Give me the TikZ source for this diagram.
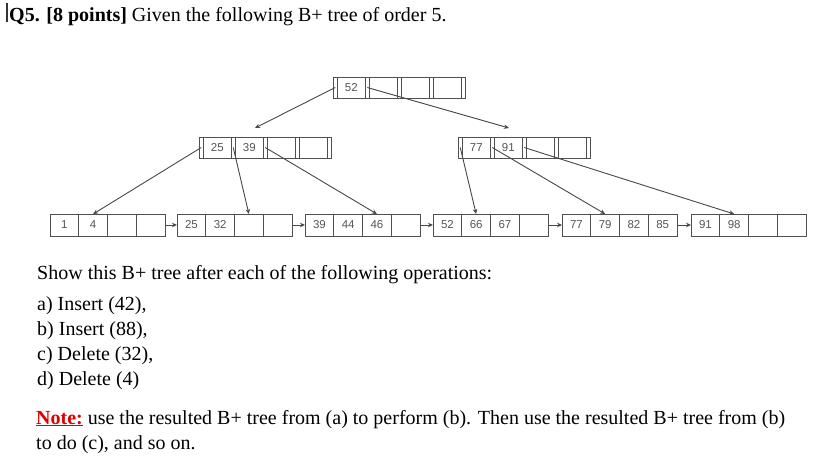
\documentclass[tikz,border=0pt]{standalone}
\usepackage{fontspec}
\setmainfont{Liberation Serif}
\setsansfont{Liberation Sans}
\usetikzlibrary{positioning,arrows.meta}
\definecolor{boxc}{HTML}{505050}
\definecolor{numc}{HTML}{555555}
\definecolor{notered}{HTML}{E00000}
\tikzset{
  ptr/.style={draw=boxc,line width=0.9pt,minimum width=4.5pt,minimum height=21pt,inner sep=0pt,outer sep=0pt},
  key/.style={draw=boxc,line width=0.9pt,minimum width=27.5pt,minimum height=21pt,inner sep=0pt,outer sep=0pt,
    font=\sffamily\fontsize{11.5}{11.5}\selectfont,text=numc},
  lcell/.style={draw=boxc,line width=0.9pt,minimum width=28.75pt,minimum height=22pt,inner sep=0pt,outer sep=0pt,
    font=\sffamily\fontsize{11.5}{11.5}\selectfont,text=numc},
  conn/.style={draw=boxc!90!black,line width=0.9pt,-{Stealth[length=5pt,width=4.5pt]}},
  txt/.style={anchor=base west,inner sep=0pt,font=\fontsize{20}{22}\selectfont},
}
\newcommand{\innode}[7]{%
  \node[ptr] (#1-p0) at (#2,#3) {};
  \node[key,right=0pt of #1-p0] (#1-k1) {#4};
  \node[ptr,right=0pt of #1-k1] (#1-p1) {};
  \node[key,right=0pt of #1-p1] (#1-k2) {#5};
  \node[ptr,right=0pt of #1-k2] (#1-p2) {};
  \node[key,right=0pt of #1-p2] (#1-k3) {#6};
  \node[ptr,right=0pt of #1-k3] (#1-p3) {};
  \node[key,right=0pt of #1-p3] (#1-k4) {#7};
  \node[ptr,right=0pt of #1-k4] (#1-p4) {};
}
\newcommand{\leafnode}[7]{%
  \node[lcell] (#1-1) at (#2,#3) {#4};
  \node[lcell,right=0pt of #1-1] (#1-2) {#5};
  \node[lcell,right=0pt of #1-2] (#1-3) {#6};
  \node[lcell,right=0pt of #1-3] (#1-4) {#7};
}
\begin{document}
\begin{tikzpicture}[x=1pt,y=-1pt]
\useasboundingbox[fill=white] (0,0) rectangle (827,473);
% cursor bar
\draw[line width=1.5pt,black!80] (7,3) -- (7,22);
\node[txt] (title) at (9,22) {\textbf{Q5. [8 points]} Given the following B+ tree of order 5.};
% tree
\innode{R}{335.25}{87.5}{52}{}{}{}
\innode{A}{201.25}{147.5}{25}{39}{}{}
\innode{B}{460.25}{147.5}{77}{91}{}{}
\leafnode{L1}{64.4}{225}{1}{4}{}{}
\leafnode{L2}{191.4}{225}{25}{32}{}{}
\leafnode{L3}{319.4}{225}{39}{44}{46}{}
\leafnode{L4}{447.4}{225}{52}{66}{67}{}
\leafnode{L5}{576.4}{225}{77}{79}{82}{85}
\leafnode{L6}{705.4}{225}{91}{98}{}{}
\coordinate (ea) at (255,128);
\coordinate (eb) at (509,128);
\draw[conn] (R-p0.center) -- (ea);
\draw[conn] (R-p1.center) -- (eb);
\draw[conn] (A-p0.center) -- (L1-2.north);
\draw[conn] (A-p1.center) -- (L2-3.north);
\draw[conn] (A-p2.center) -- (L3-3.north);
\draw[conn] (B-p0.center) -- (L4-2.north);
\draw[conn] (B-p1.center) -- (L5-2.north);
\draw[conn] (B-p2.center) -- (L6-2.north);
\draw[conn] (L1-4.east) -- (L2-1.west);
\draw[conn] (L2-4.east) -- (L3-1.west);
\draw[conn] (L3-4.east) -- (L4-1.west);
\draw[conn] (L4-4.east) -- (L5-1.west);
\draw[conn] (L5-4.east) -- (L6-1.west);
% text
\node[txt] (show) at (37,279) {Show this B+ tree after each of the following operations:};
\node[txt] (qa) at (37,310) {a) Insert (42),};
\node[txt] (qb) at (37,335) {b) Insert (88),};
\node[txt] (qc) at (37,360) {c) Delete (32),};
\node[txt] (qd) at (37,385) {d) Delete (4)};
\node[txt] (note1) at (36,424) {\textcolor{notered}{\textbf{\underline{Note:}}} use the resulted B+ tree from (a) to perform (b). Then use the resulted B+ tree from (b)};
\node[txt] (note2) at (36,449) {to do (c), and so on.};
\end{tikzpicture}
\end{document}
